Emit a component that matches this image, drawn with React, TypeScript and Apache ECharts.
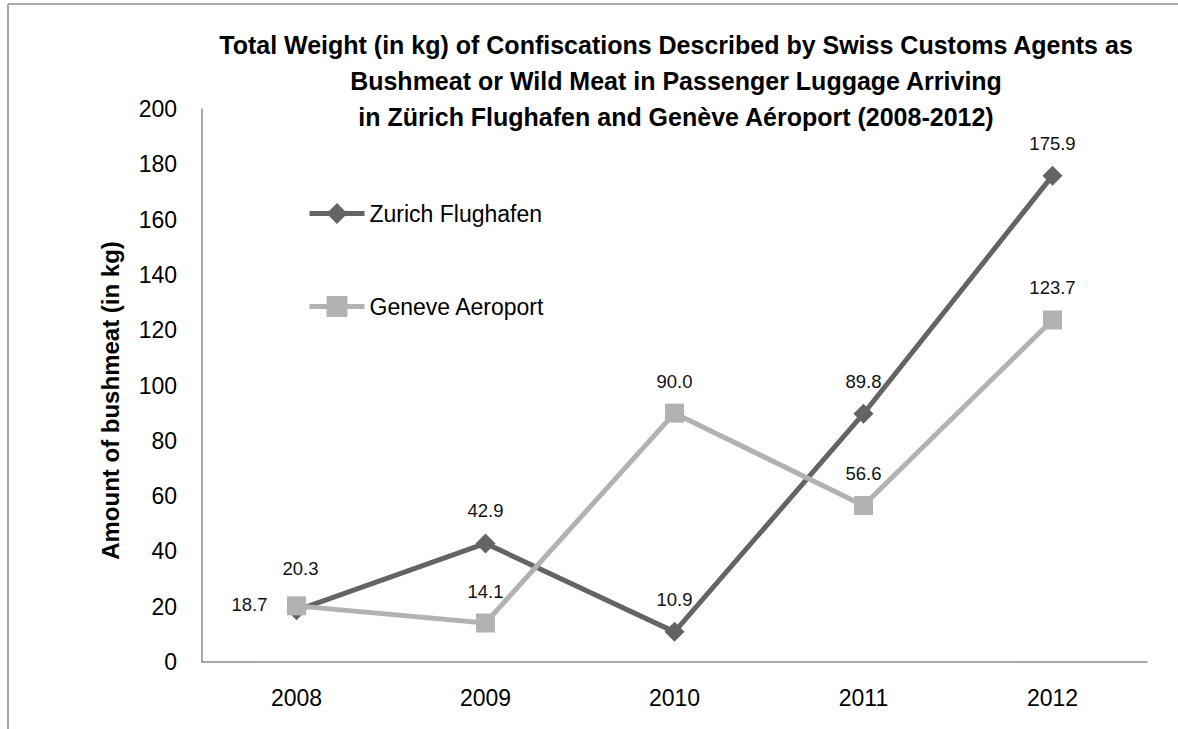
import React, { useEffect, useRef } from "react";
import * as echarts from "echarts";

const years = ["2008", "2009", "2010", "2011", "2012"];
const zurich = [18.7, 42.9, 10.9, 89.8, 175.9];
const geneve = [20.3, 14.1, 90.0, 56.6, 123.7];
const seriesNames = ["Zurich Flughafen", "Geneve Aeroport"];
const titleLines = [
  "Total Weight (in kg) of Confiscations Described by Swiss Customs Agents as",
  "Bushmeat or Wild Meat in Passenger Luggage Arriving",
  "in Zürich Flughafen and Genève Aéroport (2008-2012)",
];
const yAxisName = "Amount of bushmeat (in kg)";

const FONT = "'Liberation Sans', Arial, sans-serif";

export default function App() {
  const ref = useRef<HTMLDivElement>(null);
  useEffect(() => {
    if (!ref.current) return;
    const chart = echarts.init(ref.current, null, { renderer: "svg" });
    const labelBase = {
      show: true,
      position: "top",
      distance: 13,
      fontSize: 18.5,
      color: "#111",
      fontFamily: FONT,
      formatter: (p: any) => Number(p.value).toFixed(1),
    };
    chart.setOption({
      animation: false,
      backgroundColor: "#fff",
      textStyle: { fontFamily: FONT },
      title: {
        text: titleLines.join("\n"),
        left: 671,
        top: 22,
        textAlign: "center",
        textStyle: {
          fontSize: 25,
          fontWeight: "bold",
          color: "#000",
          lineHeight: 36,
          fontFamily: FONT,
        },
      },
      legend: {
        orient: "vertical",
        left: 307,
        top: 202,
        padding: 0,
        itemWidth: 55,
        itemHeight: 26,
        itemGap: 70,
        lineStyle: { width: 5 },
        textStyle: { fontSize: 23, color: "#000", fontFamily: FONT },
        data: seriesNames,
      },
      grid: { left: 202, right: 31, top: 109, bottom: 67, containLabel: false },
      xAxis: {
        type: "category",
        data: years,
        boundaryGap: true,
        axisLine: { lineStyle: { color: "#8c8c8c", width: 1.5 } },
        axisTick: { show: false },
        axisLabel: { fontSize: 23, color: "#000", margin: 24, fontFamily: FONT },
        splitLine: { show: false },
      },
      yAxis: {
        type: "value",
        min: 0,
        max: 200,
        interval: 20,
        name: yAxisName,
        nameLocation: "middle",
        nameRotate: 90,
        nameGap: 80,
        nameTextStyle: {
          fontSize: 24,
          fontWeight: "bold",
          color: "#000",
          fontFamily: FONT,
          padding: [0, 30, 0, 0],
        },
        axisLine: { show: true, lineStyle: { color: "#8c8c8c", width: 1.5 } },
        axisTick: { show: false },
        axisLabel: { fontSize: 23, color: "#000", margin: 25, fontFamily: FONT },
        splitLine: { show: false },
      },
      series: [
        {
          name: seriesNames[0],
          type: "line",
          data: zurich.map((v, i) =>
            i === 0
              ? { value: v, label: { position: "left", distance: 19, offset: [0, -6] } }
              : v
          ),
          symbol: "diamond",
          symbolSize: 20,
          lineStyle: { color: "#646464", width: 5 },
          itemStyle: { color: "#646464" },
          label: labelBase,
          z: 3,
        },
        {
          name: seriesNames[1],
          type: "line",
          data: geneve.map((v, i) =>
            i === 0 ? { value: v, label: { offset: [4, -5] } } : v
          ),
          symbol: "rect",
          symbolSize: 19,
          lineStyle: { color: "#b2b2b2", width: 5 },
          itemStyle: { color: "#b2b2b2" },
          label: labelBase,
          z: 4,
        },
      ],
      graphic: [
        {
          type: "line",
          shape: { x1: 8, y1: 4, x2: 1178, y2: 4 },
          style: { stroke: "#8c8c8c", lineWidth: 1.5 },
          silent: true,
        },
        {
          type: "line",
          shape: { x1: 8, y1: 4, x2: 8, y2: 729 },
          style: { stroke: "#8c8c8c", lineWidth: 1.5 },
          silent: true,
        },
      ],
    });
    return () => chart.dispose();
  }, []);
  return (
    <div
      ref={ref}
      style={{ position: "absolute", left: 0, top: 0, width: 1178, height: 729 }}
    />
  );
}
